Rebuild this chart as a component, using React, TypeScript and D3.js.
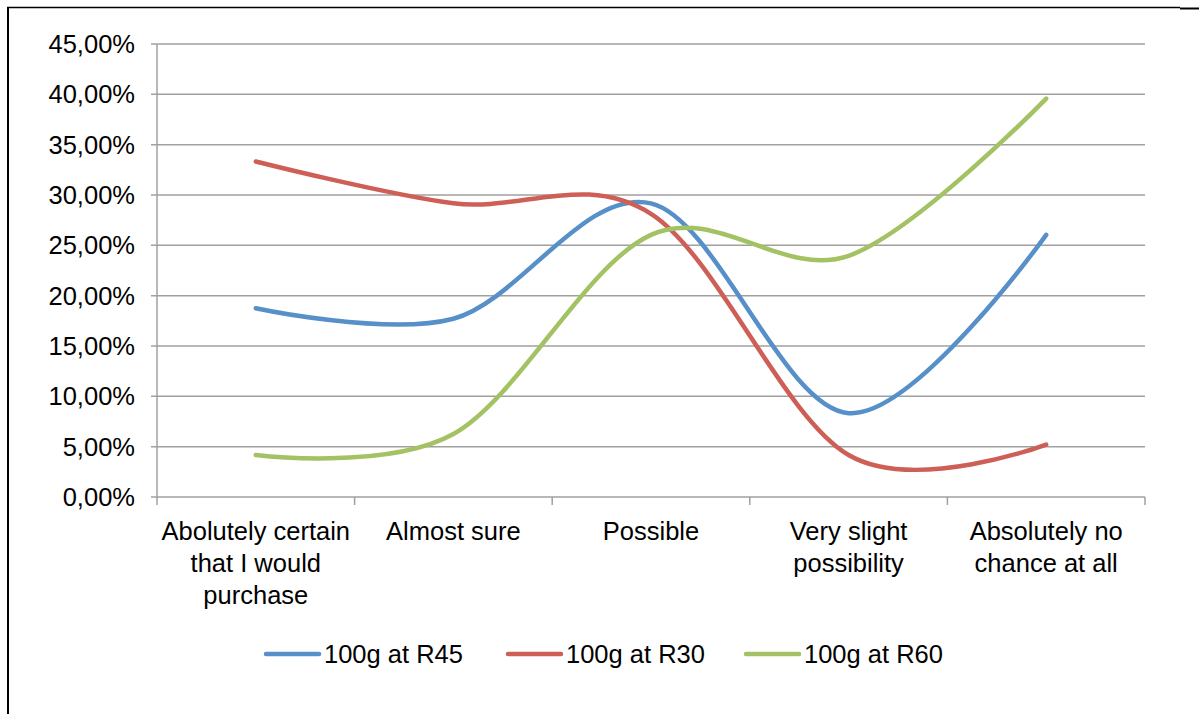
import { useEffect, useRef } from "react";
import * as d3 from "d3";

// category labels, already broken into lines as in the original
const categoryLines: string[][] = [
  ["Abolutely certain", "that I would", "purchase"],
  ["Almost sure"],
  ["Possible"],
  ["Very slight", "possibility"],
  ["Absolutely no", "chance at all"],
];

const r45Values = [18.75, 17.71, 29.17, 8.33, 26.04];
const r30Values = [33.33, 29.17, 28.13, 4.17, 5.21];
const r60Values = [4.17, 6.25, 26.04, 23.96, 39.58];

const seriesNames = ["100g at R45", "100g at R30", "100g at R60"];
const seriesColors = ["#5790c9", "#cd5f57", "#a3c263"];

const yTicks = [0, 5, 10, 15, 20, 25, 30, 35, 40, 45];

const FONT = "'Liberation Sans', Arial, sans-serif";

export default function App() {
  const svgRef = useRef<SVGSVGElement>(null);
  const width = 1199;
  const height = 714;

  useEffect(() => {
    if (!svgRef.current) return;
    const margin = { top: 44, right: 54, bottom: 217, left: 157 };
    const innerWidth = width - margin.left - margin.right;
    const innerHeight = height - margin.top - margin.bottom;

    d3.select(svgRef.current).selectAll("*").remove();
    const svg = d3
      .select(svgRef.current)
      .attr("width", width)
      .attr("height", height);

    svg
      .append("rect")
      .attr("width", width)
      .attr("height", height)
      .attr("fill", "white");

    // chart border (cropped at right and bottom)
    svg
      .append("line")
      .attr("x1", 7)
      .attr("x2", 1180)
      .attr("y1", 7.5)
      .attr("y2", 7.5)
      .attr("stroke", "black")
      .attr("stroke-width", 1.5);
    svg
      .append("line")
      .attr("x1", 1180)
      .attr("x2", 1199)
      .attr("y1", 8.5)
      .attr("y2", 8.5)
      .attr("stroke", "black")
      .attr("stroke-width", 2);
    svg
      .append("line")
      .attr("x1", 8)
      .attr("x2", 8)
      .attr("y1", 7)
      .attr("y2", height)
      .attr("stroke", "black")
      .attr("stroke-width", 2);

    const xScale = d3
      .scaleBand<number>()
      .domain(d3.range(categoryLines.length))
      .range([0, innerWidth]);

    const yScale = d3.scaleLinear().domain([0, 45]).range([innerHeight, 0]);

    const g = svg
      .append("g")
      .attr("transform", `translate(${margin.left},${margin.top})`);

    // horizontal grid lines (with the little tick stub on the left)
    g.append("g")
      .selectAll("line")
      .data(yTicks)
      .enter()
      .append("line")
      .attr("x1", -6)
      .attr("x2", innerWidth)
      .attr("y1", (d) => yScale(d))
      .attr("y2", (d) => yScale(d))
      .attr("stroke", "#a0a0a0")
      .attr("stroke-width", 1.5);

    // y axis line
    g.append("line")
      .attr("x1", 0)
      .attr("x2", 0)
      .attr("y1", 0)
      .attr("y2", innerHeight)
      .attr("stroke", "#a0a0a0")
      .attr("stroke-width", 1.5);

    // y labels
    g.append("g")
      .selectAll("text")
      .data(yTicks)
      .enter()
      .append("text")
      .attr("x", -22)
      .attr("y", (d) => yScale(d))
      .attr("dy", "0.35em")
      .attr("text-anchor", "end")
      .attr("font-family", FONT)
      .attr("font-size", 25.5)
      .attr("fill", "#000")
      .text((d) => d.toFixed(2).replace(".", ",") + "%");

    // x axis ticks at the category boundaries
    const boundaries = d3.range(categoryLines.length + 1);
    g.append("g")
      .selectAll("line")
      .data(boundaries)
      .enter()
      .append("line")
      .attr("x1", (d) => d * xScale.step())
      .attr("x2", (d) => d * xScale.step())
      .attr("y1", innerHeight)
      .attr("y2", innerHeight + 8)
      .attr("stroke", "#a0a0a0")
      .attr("stroke-width", 1.5);

    // x category labels
    const cx = (i: number) => (xScale(i) ?? 0) + xScale.bandwidth() / 2;
    categoryLines.forEach((lines, i) => {
      const t = g
        .append("text")
        .attr("text-anchor", "middle")
        .attr("font-family", FONT)
        .attr("font-size", 25.5)
        .attr("fill", "#000");
      lines.forEach((line, j) => {
        t.append("tspan")
          .attr("x", cx(i))
          .attr("y", innerHeight + 43 + j * 32)
          .text(line);
      });
    });

    // smoothed lines, like Excel's "smoothed line"
    const line = d3
      .line<number>()
      .x((_, i) => cx(i))
      .y((d) => yScale(d))
      .curve(d3.curveCardinal.tension(0));

    const allSeries = [r45Values, r30Values, r60Values];
    allSeries.forEach((values, k) => {
      g.append("path")
        .datum(values)
        .attr("fill", "none")
        .attr("stroke", seriesColors[k])
        .attr("stroke-width", 4.5)
        .attr("stroke-linecap", "round")
        .attr("stroke-linejoin", "round")
        .attr("d", line);
    });

    // legend
    const legendX = [266, 508, 746];
    const legendY = 654;
    seriesNames.forEach((name, k) => {
      svg
        .append("line")
        .attr("x1", legendX[k])
        .attr("x2", legendX[k] + 53)
        .attr("y1", legendY)
        .attr("y2", legendY)
        .attr("stroke", seriesColors[k])
        .attr("stroke-width", 4.5)
        .attr("stroke-linecap", "round");
      svg
        .append("text")
        .attr("x", legendX[k] + 58)
        .attr("y", legendY)
        .attr("dy", "0.35em")
        .attr("font-family", FONT)
        .attr("font-size", 25.5)
        .attr("fill", "#000")
        .text(name);
    });
  }, []);

  return (
    <div style={{ position: "absolute", left: 0, top: 0 }}>
      <svg ref={svgRef} style={{ display: "block" }} />
    </div>
  );
}
